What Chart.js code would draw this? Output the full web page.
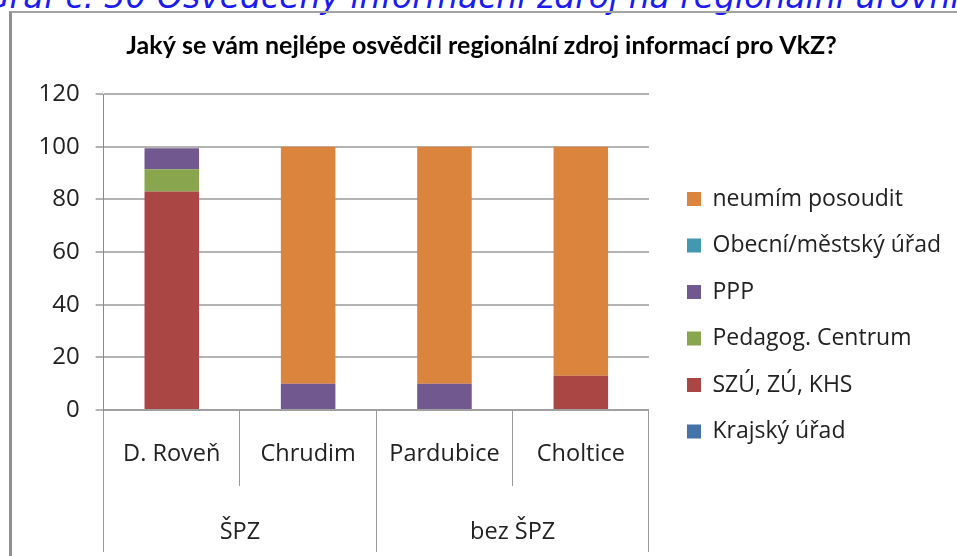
<!DOCTYPE html>
<html>
<head>
<meta charset="utf-8">
<script src="https://cdn.jsdelivr.net/npm/chart.js@4"></script>
<style>
  html, body { margin: 0; padding: 0; background: #fff; overflow: hidden; width: 957px; height: 556px; }
  #caption { position: absolute; left: -16px; top: -20px; font-family: "DejaVu Sans"; font-style: italic;
    font-size: 33px; line-height: 33px; color: #1c1cf0; white-space: nowrap; }
  #frame { position: absolute; left: 9px; top: 11px; width: 2000px; height: 2000px;
    border-left: 3px solid #8f8f8f; border-top: 2px solid #a3a3a3; }
  #chart { position: absolute; left: 12px; top: 0; }
</style>
</head>
<body>
<div id="caption">Graf č. 30 Osvědčený informační zdroj na regionální úrovni</div>
<div id="frame"></div>
<canvas id="chart" width="945" height="556"></canvas>
<script>
// categories and groups on the x axis
const categories = ["D. Roveň", "Chrudim", "Pardubice", "Choltice"];
const groups = ["ŠPZ", "bez ŠPZ"];

// series values (percent), bottom of the stack first
const krajskyUrad = [0, 0, 0, 0];
const szuZuKhs = [83, 0, 0, 13];
const pedagogCentrum = [8.4, 0, 0, 0];
const ppp = [8, 10, 10, 0];
const obecniUrad = [0, 0, 0, 0];
const neumimPosoudit = [0, 90, 90, 87];

// y axis ticks
const yMin = 0;
const yMax = 120;
const yStep = 20;

const gridGray = "#b3b3b3";
const lineGray = "#9a9a9a";
const axisFont = { family: "Open Sans", size: 23.5 };

function series(label, data, color) {
  return {
    label: label,
    data: data,
    backgroundColor: color,
    borderWidth: 0,
    xAxisID: "x",
    yAxisID: "y",
    categoryPercentage: 1,
    barPercentage: 0.4,
  };
}

const chart = new Chart(document.getElementById("chart").getContext("2d"), {
  type: "bar",
  data: {
    labels: categories,
    datasets: [
      series("Krajský úřad", krajskyUrad, "#4572A7"),
      series("SZÚ, ZÚ, KHS", szuZuKhs, "#AA4643"),
      series("Pedagog. Centrum", pedagogCentrum, "#89A54E"),
      series("PPP", ppp, "#71588F"),
      series("Obecní/městský úřad", obecniUrad, "#4198AF"),
      series("neumím posoudit", neumimPosoudit, "#DB843D"),
    ],
  },
  options: {
    responsive: false,
    animation: false,
    devicePixelRatio: 1,
    layout: { padding: { left: 0, right: 6, top: 0, bottom: 4 } },
    plugins: {
      title: {
        display: true,
        text: "Jaký se vám nejlépe osvědčil regionální zdroj informací pro VkZ?",
        color: "#000",
        font: { family: "Lato", size: 25, weight: "bold", lineHeight: 1.2 },
        padding: { top: 31, bottom: 33 },
      },
      legend: {
        display: true,
        position: "right",
        align: "start",
        reverse: true,
        maxWidth: 400,
        title: { display: true, text: "", font: { size: 10, lineHeight: 1.2 }, padding: { top: 152, bottom: 0 } },
        labels: {
          boxWidth: 14,
          boxHeight: 14,
          padding: 23.5,
          color: "#222",
          font: { family: "Open Sans", size: 23 },
        },
      },
      tooltip: { enabled: false },
    },
    scales: {
      x: {
        stacked: true,
        offset: true,
        grid: { offset: true, drawOnChartArea: false, tickLength: 76, tickColor: lineGray, tickWidth: 1 },
        border: { display: true, color: "#a0a0a0", width: 2 },
        ticks: { color: "#222", font: axisFont, padding: -45.5, maxRotation: 0, autoSkip: false },
        afterFit: (scale) => { scale.height = 76; },
      },
      x2: {
        type: "category",
        position: "bottom",
        labels: groups,
        offset: true,
        grid: { offset: true, drawOnChartArea: false, tickLength: 66, tickColor: lineGray, tickWidth: 1 },
        border: { display: false },
        ticks: { color: "#222", font: axisFont, padding: -34, maxRotation: 0, autoSkip: false },
        afterFit: (scale) => { scale.height = 66; },
      },
      y: {
        stacked: true,
        min: yMin,
        max: yMax,
        ticks: { stepSize: yStep, color: "#222", font: { family: "Open Sans", size: 24 }, padding: 16 },
        grid: { color: gridGray, lineWidth: 2, tickLength: 8 },
        border: { display: true, color: "#8a8a8a", width: 1 },
        afterFit: (scale) => { scale.width = 91.6; },
      },
      gap: {
        type: "linear",
        position: "right",
        display: true,
        grid: { display: false },
        border: { display: false },
        ticks: { display: false },
        afterFit: (scale) => { scale.width = 14.5; },
      },
    },
  },
});
</script>
</body>
</html>
